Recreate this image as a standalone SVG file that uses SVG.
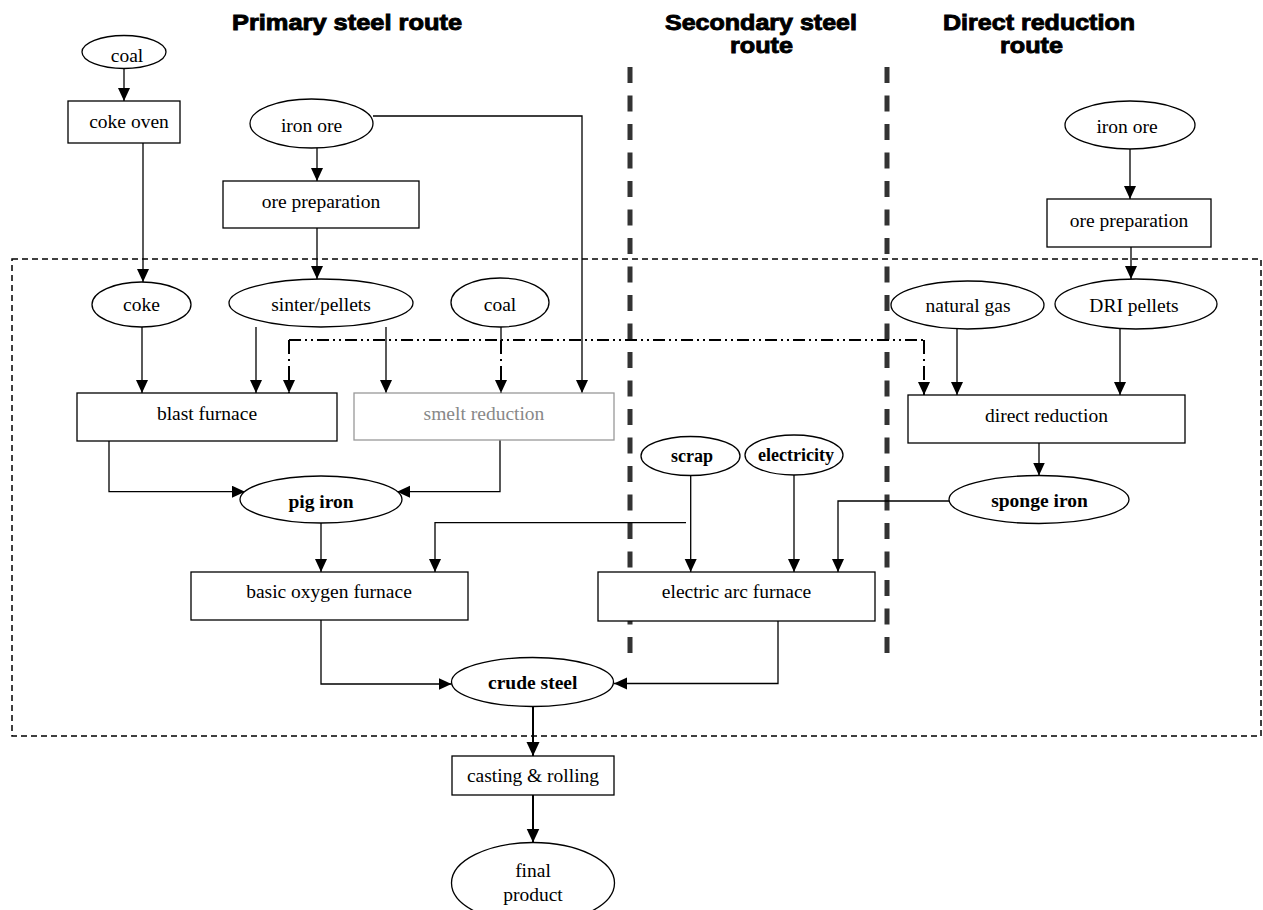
<svg xmlns="http://www.w3.org/2000/svg" width="1263" height="910" viewBox="0 0 1263 910">
<defs>
<style>
.t{font-family:"Liberation Serif","Times New Roman",serif;font-size:19.5px;fill:#000;text-anchor:middle}
.b{font-weight:bold}
.h{font-family:"Liberation Sans",Arial,sans-serif;font-size:22px;font-weight:bold;fill:#000;stroke:#000;stroke-width:0.9}
.n{fill:#fff;stroke:#000;stroke-width:1.3}
.g{fill:#fff;stroke:#999;stroke-width:1.3}
.c{fill:none;stroke:#000;stroke-width:1.3}
.ct{fill:none;stroke:#000;stroke-width:2}
.dd{fill:none;stroke:#000;stroke-width:2;stroke-dasharray:12,4,2,4,2,4}
.dv{fill:none;stroke:#000;stroke-width:2;stroke-dasharray:14,5,2,5}
.sep{stroke:#333;stroke-width:5;stroke-dasharray:16,12.5}
</style>
<marker id="ah" markerUnits="userSpaceOnUse" markerWidth="14" markerHeight="13" refX="13" refY="6" orient="auto"><path d="M0,0 L13,6 L0,12 z" fill="#000"/></marker>
<marker id="ah2" markerUnits="userSpaceOnUse" markerWidth="15" markerHeight="14" refX="14" refY="6.5" orient="auto"><path d="M0,0 L14,6.5 L0,13 z" fill="#000"/></marker>
</defs>
<rect width="1263" height="910" fill="#fff"/>
<g id="titles">
<text class="h" x="232" y="30" textLength="230" lengthAdjust="spacingAndGlyphs">Primary steel route</text>
<text class="h" x="665" y="30" textLength="192" lengthAdjust="spacingAndGlyphs">Secondary steel</text>
<text class="h" x="730" y="53" textLength="63" lengthAdjust="spacingAndGlyphs">route</text>
<text class="h" x="943" y="30" textLength="192" lengthAdjust="spacingAndGlyphs">Direct reduction</text>
<text class="h" x="1000" y="53" textLength="63" lengthAdjust="spacingAndGlyphs">route</text>
</g>
<g id="frame">
<rect x="12" y="259" width="1249" height="477" fill="none" stroke="#000" stroke-width="1.5" stroke-dasharray="6,4"/>
<line class="sep" x1="630" y1="67" x2="630" y2="653"/>
<line class="sep" x1="887" y1="67" x2="887" y2="653"/>
</g>
<g id="connectors">
<path class="c" d="M124,69 V101" marker-end="url(#ah)"/>
<path class="c" d="M317,148 V181" marker-end="url(#ah)"/>
<path class="c" d="M373,116 H582 V393" marker-end="url(#ah)"/>
<path class="c" d="M143,143 V282" marker-end="url(#ah)"/>
<path class="c" d="M317,228 V279" marker-end="url(#ah)"/>
<path class="c" d="M142,327 V393" marker-end="url(#ah)"/>
<path class="c" d="M256,327 V393" marker-end="url(#ah)"/>
<path class="c" d="M386,327 V393" marker-end="url(#ah)"/>
<path class="c" d="M501,327 V340"/>
<path class="dd" d="M289,340 H924"/>
<path class="dv" d="M289,340 V393" marker-end="url(#ah)"/>
<path class="dv" d="M501,340 V393" marker-end="url(#ah)"/>
<path class="dv" d="M924,340 V395" marker-end="url(#ah)"/>
<path class="c" d="M957,329 V395" marker-end="url(#ah)"/>
<path class="c" d="M1120,329 V395" marker-end="url(#ah)"/>
<path class="c" d="M1130,149 V199" marker-end="url(#ah)"/>
<path class="c" d="M1131,247 V279" marker-end="url(#ah)"/>
<path class="c" d="M1039,443 V475.5" marker-end="url(#ah)"/>
<path class="c" d="M109,441 V491.7 H245" marker-end="url(#ah)"/>
<path class="c" d="M500,440 V491.7 H397" marker-end="url(#ah)"/>
<path class="c" d="M321,523 V572" marker-end="url(#ah)"/>
<path class="c" d="M686,522.7 H435 V572" marker-end="url(#ah)"/>
<path class="c" d="M690.7,476 V572" marker-end="url(#ah)"/>
<path class="c" d="M794,475 V572" marker-end="url(#ah)"/>
<path class="c" d="M949,501 H838 V572" marker-end="url(#ah)"/>
<path class="c" d="M321,620 V684 H451.5" marker-end="url(#ah)"/>
<path class="c" d="M778,621 V683.5 H614" marker-end="url(#ah)"/>
<path class="ct" d="M533,706.5 V756" marker-end="url(#ah2)"/>
<path class="ct" d="M533,795 V842.5" marker-end="url(#ah2)"/>
</g>
<g id="coal-top"><ellipse class="n" cx="124" cy="52" rx="42" ry="16.5"/><text class="t" x="127" y="62">coal</text></g>
<g id="coke-oven"><rect class="n" x="68" y="101" width="112" height="42"/><text class="t" x="129" y="128">coke oven</text></g>
<g id="iron-ore-primary"><ellipse class="n" cx="311.5" cy="123.5" rx="61.5" ry="24.5"/><text class="t" x="311.5" y="131.5">iron ore</text></g>
<g id="ore-preparation-primary"><rect class="n" x="223" y="181" width="196" height="47"/><text class="t" x="321" y="208">ore preparation</text></g>
<g id="coke"><ellipse class="n" cx="141.5" cy="304.5" rx="49.5" ry="22.5"/><text class="t" x="141.5" y="311">coke</text></g>
<g id="sinter-pellets"><ellipse class="n" cx="321" cy="303" rx="92" ry="24"/><text class="t" x="321" y="311">sinter/pellets</text></g>
<g id="coal-mid"><ellipse class="n" cx="500" cy="302.5" rx="49" ry="24.5"/><text class="t" x="500" y="310.5">coal</text></g>
<g id="blast-furnace"><rect class="n" x="77" y="393" width="260" height="48"/><text class="t" x="207" y="420">blast furnace</text></g>
<g id="smelt-reduction"><rect class="g" x="354" y="393" width="260" height="47"/><text class="t" x="484" y="420" style="fill:#888">smelt reduction</text></g>
<g id="iron-ore-dr"><ellipse class="n" cx="1130" cy="125" rx="65" ry="24"/><text class="t" x="1127" y="133">iron ore</text></g>
<g id="ore-preparation-dr"><rect class="n" x="1047" y="199" width="164" height="48"/><text class="t" x="1129" y="226.5">ore preparation</text></g>
<g id="natural-gas"><ellipse class="n" cx="967.5" cy="305" rx="76.5" ry="24"/><text class="t" x="968" y="311.5">natural gas</text></g>
<g id="dri-pellets"><ellipse class="n" cx="1136" cy="304" rx="81" ry="25"/><text class="t" x="1134" y="311.5">DRI pellets</text></g>
<g id="direct-reduction"><rect class="n" x="908" y="395" width="277" height="48"/><text class="t" x="1046.5" y="421.5">direct reduction</text></g>
<g id="sponge-iron"><ellipse class="n" cx="1039" cy="499.5" rx="90" ry="24"/><text class="t b" x="1039.5" y="506.5">sponge iron</text></g>
<g id="scrap"><ellipse class="n" cx="690.5" cy="456" rx="49.5" ry="19.5"/><text class="t b" x="692" y="461.5" style="font-size:18px">scrap</text></g>
<g id="electricity"><ellipse class="n" cx="794" cy="455" rx="49" ry="20"/><text class="t b" x="796" y="461" style="font-size:18px">electricity</text></g>
<g id="pig-iron"><ellipse class="n" cx="321" cy="499.5" rx="81" ry="23.5"/><text class="t b" x="321" y="508">pig iron</text></g>
<g id="basic-oxygen-furnace"><rect class="n" x="191" y="572" width="277" height="48"/><text class="t" x="329" y="598.3">basic oxygen furnace</text></g>
<g id="electric-arc-furnace"><rect class="n" x="598" y="572" width="277" height="49"/><text class="t" x="736.5" y="598.3">electric arc furnace</text></g>
<g id="crude-steel"><ellipse class="n" cx="532.5" cy="682" rx="81" ry="24.5"/><text class="t b" x="532.7" y="689.3">crude steel</text></g>
<g id="casting-rolling"><rect class="n" x="452" y="756" width="162" height="39"/><text class="t" x="533" y="781.7">casting &amp; rolling</text></g>
<g id="final-product"><ellipse class="n" cx="533" cy="883" rx="81.5" ry="40.5"/><text class="t" x="533" y="877">final</text><text class="t" x="533" y="901">product</text></g>
</svg>
